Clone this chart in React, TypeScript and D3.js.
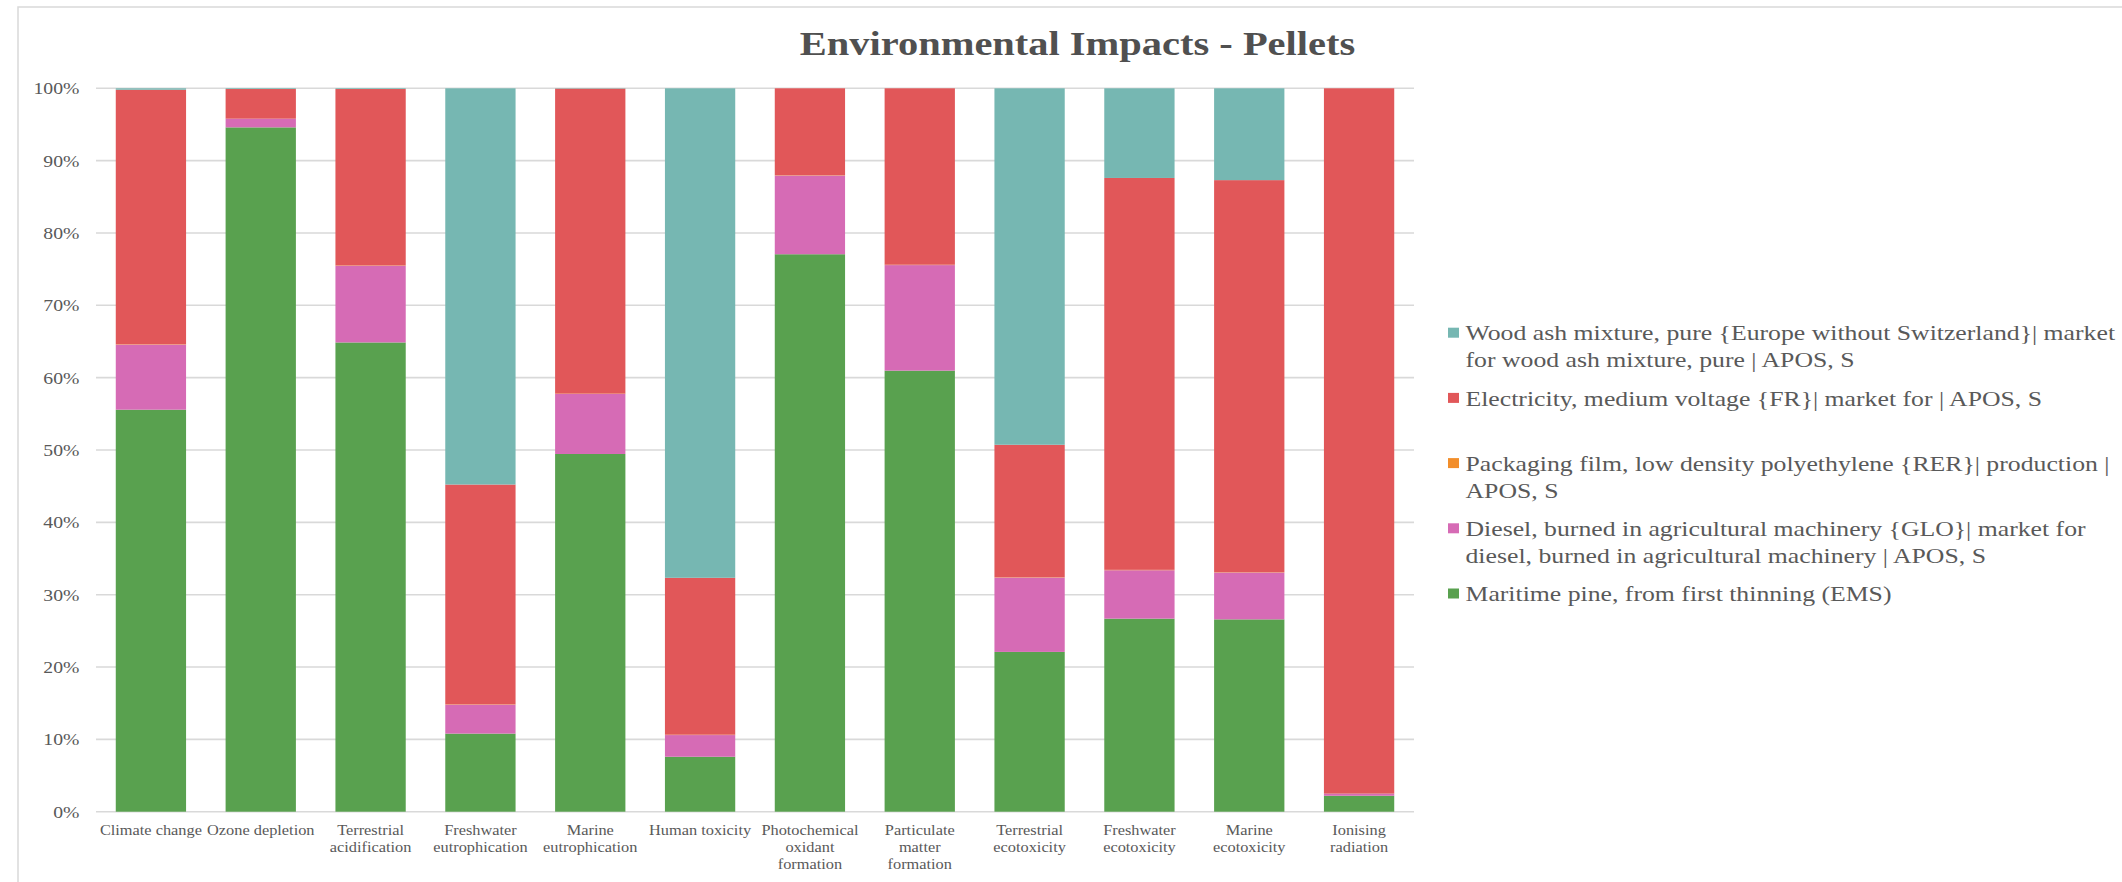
import React from "react";
import * as d3 from "d3";

const categories = [
  "Climate change",
  "Ozone depletion",
  "Terrestrial\nacidification",
  "Freshwater\neutrophication",
  "Marine\neutrophication",
  "Human toxicity",
  "Photochemical\noxidant\nformation",
  "Particulate\nmatter\nformation",
  "Terrestrial\necotoxicity",
  "Freshwater\necotoxicity",
  "Marine\necotoxicity",
  "Ionising\nradiation",
];

// stacked bottom -> top
const maritimePine = [55.6, 94.6, 64.9, 10.8, 49.5, 7.6, 77.1, 61.0, 22.1, 26.7, 26.6, 2.2];
const diesel = [9.0, 1.2, 10.6, 4.0, 8.3, 3.0, 10.9, 14.6, 10.3, 6.7, 6.5, 0.3];
const packagingFilm = [0.05, 0.0, 0.05, 0.05, 0.05, 0.05, 0.05, 0.05, 0.05, 0.05, 0.05, 0.0];
const electricity = [35.2, 4.1, 24.4, 30.4, 42.2, 21.7, 12.0, 24.4, 18.3, 54.2, 54.2, 97.5];
const woodAsh = [0.2, 0.1, 0.1, 54.8, 0.05, 67.7, 0.0, 0.0, 49.3, 12.4, 12.7, 0.0];

const seriesKeys = ["pine", "diesel", "film", "elec", "ash"];
const seriesValues: Record<string, number[]> = {
  pine: maritimePine,
  diesel: diesel,
  film: packagingFilm,
  elec: electricity,
  ash: woodAsh,
};
const seriesColors: Record<string, string> = {
  pine: "#59A14F",
  diesel: "#D66BB5",
  film: "#F28E2B",
  elec: "#E15759",
  ash: "#76B7B2",
};

// legend order top -> bottom
const legendKeys = ["ash", "elec", "film", "diesel", "pine"];
const legendLabels: Record<string, string[]> = {
  ash: ["Wood ash mixture, pure {Europe without Switzerland}| market", "for wood ash mixture, pure | APOS, S"],
  elec: ["Electricity, medium voltage {FR}| market for | APOS, S"],
  film: ["Packaging film, low density polyethylene {RER}| production |", "APOS, S"],
  diesel: ["Diesel, burned in agricultural machinery {GLO}| market for", "diesel, burned in agricultural machinery | APOS, S"],
  pine: ["Maritime pine, from first thinning (EMS)"],
};

const yTicks = [0, 0.1, 0.2, 0.3, 0.4, 0.5, 0.6, 0.7, 0.8, 0.9, 1.0];
const title = "Environmental Impacts - Pellets";

const W = 2122;
const H = 882;
const FONT = "'Liberation Serif', 'Times New Roman', serif";
const TXT = "#595959";

export default function App() {
  const plotL = 96;
  const plotR = 1414;
  const plotT = 88.3;
  const plotB = 811.7;

  const x = d3.scaleBand<number>()
    .domain(d3.range(categories.length))
    .range([plotL, plotR])
    .paddingInner(0.36)
    .paddingOuter(0.18);
  const y = d3.scaleLinear().domain([0, 1]).range([plotB, plotT]);

  const rows = categories.map((c, i) => {
    const r: Record<string, number> = {};
    seriesKeys.forEach((k) => (r[k] = seriesValues[k][i]));
    return r;
  });
  const stack = d3.stack<Record<string, number>>().keys(seriesKeys).offset(d3.stackOffsetExpand);
  const stacked = stack(rows);
  const fmt = d3.format(".0%");

  const legendX = 1448;
  const legendY0 = 332.7;
  const legendStep = 65.2;
  const legendLine = 26.7;

  return (
    <svg width={W} height={H} style={{ position: "absolute", left: 0, top: 0, background: "#fff" }}>
      <rect x={18} y={7} width={W} height={H} fill="#fff" stroke="#d9d9d9" strokeWidth={1.5} />
      <text
        transform={`translate(1077.5,55) scale(1.19,1)`}
        textAnchor="middle"
        fontFamily={FONT}
        fontWeight="bold"
        fontSize={34}
        fill="#505050"
      >
        {title}
      </text>
      {yTicks.map((t) => (
        <g key={t}>
          <line x1={plotL} x2={plotR} y1={y(t)} y2={y(t)} stroke="#d9d9d9" strokeWidth={1.6} />
          <text
            transform={`translate(79.5,${y(t)}) scale(1.16,1)`}
            textAnchor="end"
            dy="0.35em"
            fontFamily={FONT}
            fontSize={17}
            fill={TXT}
          >
            {fmt(t)}
          </text>
        </g>
      ))}
      {stacked.map((s) => (
        <g key={s.key} fill={seriesColors[s.key]}>
          {s.map((d, i) => (
            <rect
              key={i}
              x={x(i)}
              width={x.bandwidth()}
              y={y(d[1])}
              height={Math.max(0, y(d[0]) - y(d[1]))}
            />
          ))}
        </g>
      ))}
      {categories.map((c, i) => {
        const cx = (x(i) as number) + x.bandwidth() / 2;
        return c.split("\n").map((line, j) => (
          <text
            key={`${i}-${j}`}
            transform={`translate(${cx},${830 + j * 17}) scale(1.09,1)`}
            textAnchor="middle"
            dy="0.35em"
            fontFamily={FONT}
            fontSize={15}
            fill={TXT}
          >
            {line}
          </text>
        ));
      })}
      {legendKeys.map((k, i) => {
        const ly = legendY0 + i * legendStep;
        return (
          <g key={k}>
            <rect x={legendX} y={ly - 5} width={11} height={10} fill={seriesColors[k]} />
            {legendLabels[k].map((line, j) => (
              <text
                key={j}
                transform={`translate(${legendX + 17.5},${ly + j * legendLine}) scale(1.17,1)`}
                dy="0.35em"
                fontFamily={FONT}
                fontSize={22}
                fill={TXT}
              >
                {line}
              </text>
            ))}
          </g>
        );
      })}
    </svg>
  );
}
